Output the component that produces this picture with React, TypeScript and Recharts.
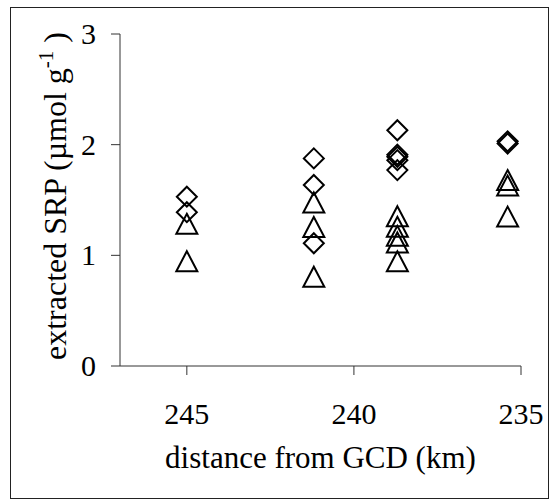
import React from 'react';
import { ScatterChart, Scatter, XAxis, YAxis, Label } from 'recharts';

const distances = [245, 241.2, 238.7, 235.4];
const diamondValues = [
  [1.53, 1.39],
  [1.876, 1.636, 1.109],
  [2.13, 1.91, 1.89, 1.86, 1.77],
  [2.03, 2.01],
];
const triangleValues = [
  [1.285, 0.947],
  [1.478, 1.256, 0.807],
  [1.353, 1.258, 1.176, 1.116, 0.946],
  [1.68, 1.63, 1.35],
];
const xTicks = [245, 240, 235];
const yTicks = [0, 1, 2, 3];

const toPoints = (vals: number[][]) =>
  vals.flatMap((col, i) => col.map((v) => ({ x: distances[i], y: v })));

const diamondData = toPoints(diamondValues);
const triangleData = toPoints(triangleValues);

const FONT = '"Liberation Serif", "Times New Roman", Times, serif';
const fontStyle = { fontFamily: FONT };

const Diamond = (props: any) => {
  const { cx, cy } = props;
  const r = 10;
  return (
    <path
      d={`M${cx},${cy - r}L${cx + r},${cy}L${cx},${cy + r}L${cx - r},${cy}Z`}
      fill="none"
      stroke="#000"
      strokeWidth={2}
    />
  );
};

const Triangle = (props: any) => {
  const { cx, cy } = props;
  const h = 10;
  const w = 10.5;
  return (
    <path
      d={`M${cx},${cy - h}L${cx + w},${cy + h}L${cx - w},${cy + h}Z`}
      fill="none"
      stroke="#000"
      strokeWidth={2}
    />
  );
};

const XTick = (props: any) => {
  const { x, y, payload } = props;
  return (
    <text x={x} y={y + 18} textAnchor="middle" style={fontStyle} fontSize={30} fill="#000">
      {payload.value}
    </text>
  );
};

const YTick = (props: any) => {
  const { x, y, payload } = props;
  return (
    <text x={x} y={y + 10} textAnchor="end" style={fontStyle} fontSize={30} fill="#000">
      {payload.value}
    </text>
  );
};

const YLabel = (props: any) => {
  const vb = props.viewBox || {};
  const cy = (vb.y ?? 34) + (vb.height ?? 332) / 2;
  return (
    <text
      transform={`translate(66,${cy - 4}) rotate(-90)`}
      textAnchor="middle"
      style={fontStyle}
      fontSize={32}
      fill="#000"
    >
      extracted SRP (µmol g
      <tspan dy={-13} fontSize={21}>-1</tspan>
      <tspan dy={13}> )</tspan>
    </text>
  );
};

const XLabel = (props: any) => {
  const vb = props.viewBox || {};
  const cx = (vb.x ?? 120) + (vb.width ?? 401) / 2;
  return (
    <text x={cx} y={468} textAnchor="middle" style={fontStyle} fontSize={31} fill="#000">
      distance from GCD (km)
    </text>
  );
};

export default function App() {
  return (
    <div style={{ position: 'absolute', left: 0, top: 0, width: 550, height: 500, background: '#fff' }}>
      <div
        style={{
          position: 'absolute',
          left: 10,
          top: 7,
          width: 539,
          height: 492,
          border: '1px solid #222',
          boxSizing: 'border-box',
        }}
      />
      <div style={{ position: 'absolute', left: 0, top: 0 }}>
        <ScatterChart width={550} height={500} margin={{ top: 34, right: 29, bottom: 34, left: 0 }}>
          <XAxis
            type="number"
            dataKey="x"
            domain={[235, 247]}
            reversed
            ticks={xTicks}
            allowDataOverflow
            height={100}
            tickSize={9}
            tickMargin={31}
            stroke="#333"
            tick={<XTick />}
            label={<Label content={<XLabel />} />}
          />
          <YAxis
            type="number"
            dataKey="y"
            domain={[0, 3]}
            ticks={yTicks}
            allowDataOverflow
            width={120}
            tickSize={9}
            tickMargin={15}
            stroke="#333"
            tick={<YTick />}
            label={<Label content={<YLabel />} />}
          />
          <Scatter data={diamondData} shape={<Diamond />} isAnimationActive={false} />
          <Scatter data={triangleData} shape={<Triangle />} isAnimationActive={false} />
        </ScatterChart>
      </div>
    </div>
  );
}
